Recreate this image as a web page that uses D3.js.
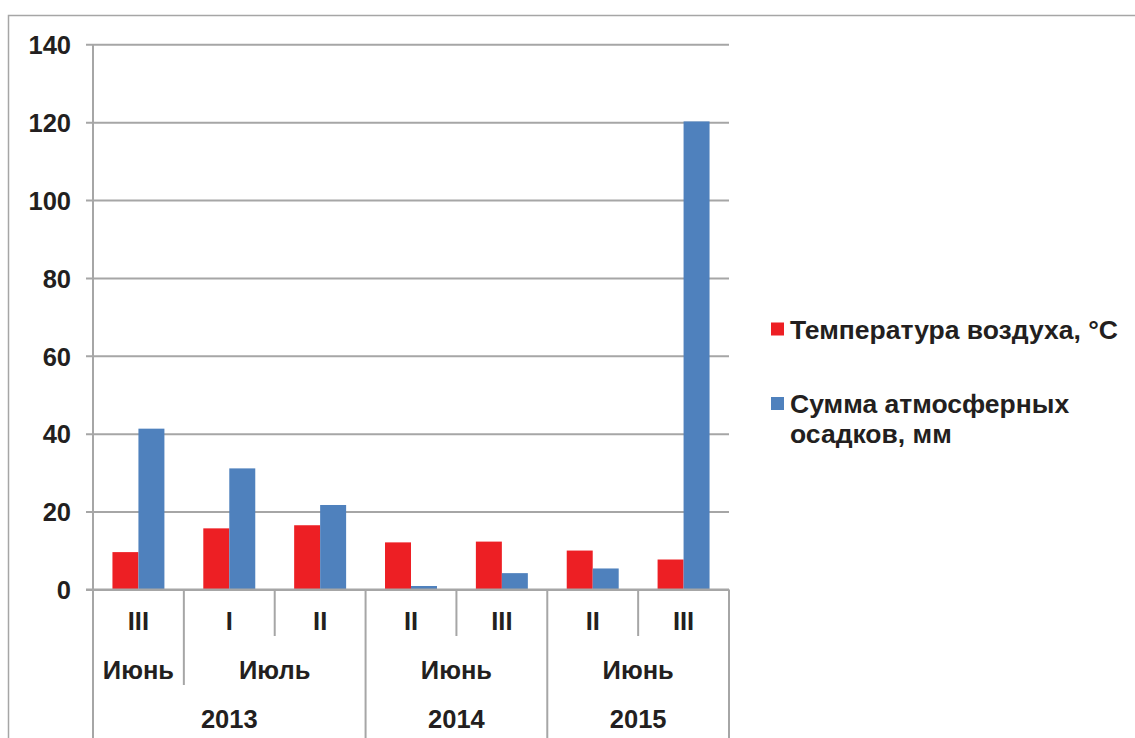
<!DOCTYPE html>
<html><head><meta charset="utf-8">
<script src="https://cdn.jsdelivr.net/npm/d3@7"></script>
<style>
html,body{margin:0;padding:0;background:#fff;}
svg{display:block;}
text{font-family:"Liberation Sans",Arial,sans-serif;font-weight:bold;fill:#231F20;}
</style></head><body>
<svg id="c" width="1135" height="738"></svg>
<script>
const periods = ["III","I","II","II","III","II","III"];
const months  = ["Июнь","Июль","Июль","Июнь","Июнь","Июнь","Июнь"];
const years   = ["2013","2013","2013","2014","2014","2015","2015"];
const temperature   = [9.6, 15.7, 16.5, 12.1, 12.3, 10.0, 7.7];
const precipitation = [41.3, 31.1, 21.7, 0.9, 4.2, 5.4, 120.2];
const seriesNames = ["Температура воздуха, °С", "Сумма атмосферных осадков, мм"];
const seriesColors = ["#ED1F24", "#4F81BD"];
const yTicks = [0,20,40,60,80,100,120,140];

(function(){
const svg = d3.select("#c");
const W = 1135, H = 738;
const pL = 93, pR = 729, pT = 44.3, pB = 589.5;
const grid = "#A6A6A6";
const fs = "25.5px";
const lfs = "26.5px";

svg.append("rect").attr("x",8.5).attr("y",15.5).attr("width",W+10).attr("height",H+10)
  .attr("fill","none").attr("stroke",grid).attr("stroke-width",1.5);

const idx = d3.range(periods.length);
const x0 = d3.scaleBand().domain(idx).range([pL,pR]).paddingInner(0.428).paddingOuter(0.214);
const x1 = d3.scaleBand().domain([0,1]).range([0,x0.bandwidth()]);
const y = d3.scaleLinear().domain([0,140]).range([pB,pT]);
const step = x0.step();

const yAxis = d3.axisLeft(y).tickValues(yTicks).tickSize(pR-86).tickFormat(d=>d);
const ga = svg.append("g").attr("transform",`translate(${pR},0)`).call(yAxis);
ga.select(".domain").remove();
ga.selectAll(".tick line").attr("stroke",grid).attr("stroke-width",2);
ga.selectAll(".tick text").attr("x",-(pR-71)).attr("dy","0.36em")
  .style("font-size",fs).attr("text-anchor","end");

svg.append("line").attr("x1",pL).attr("x2",pL).attr("y1",pT).attr("y2",H)
  .attr("stroke",grid).attr("stroke-width",2);
svg.append("line").attr("x1",pR).attr("x2",pR).attr("y1",pB).attr("y2",H)
  .attr("stroke",grid).attr("stroke-width",2);

const data = idx.map(i=>[temperature[i], precipitation[i]]);
const g = svg.append("g");
g.selectAll("g").data(data).join("g")
  .attr("transform",(d,i)=>`translate(${x0(i)},0)`)
  .selectAll("rect").data(d=>d.map((v,k)=>({v,k}))).join("rect")
  .attr("x",d=>x1(d.k)).attr("width",x1.bandwidth())
  .attr("y",d=>y(d.v)).attr("height",d=>y(0)-y(d.v))
  .attr("fill",d=>seriesColors[d.k]);

svg.append("line").attr("x1",86).attr("x2",pR).attr("y1",pB).attr("y2",pB)
  .attr("stroke",grid).attr("stroke-width",2);

for (let i=1;i<periods.length;i++){
  const xs = pL + i*step;
  let y2 = 636;
  if (years[i]!==years[i-1]) y2 = H;
  else if (months[i]!==months[i-1]) y2 = 685;
  svg.append("line").attr("x1",xs).attr("x2",xs).attr("y1",pB).attr("y2",y2)
    .attr("stroke",grid).attr("stroke-width",2);
}

svg.selectAll(".p").data(periods).join("text").attr("class","p")
  .attr("x",(d,i)=>x0(i)+x0.bandwidth()/2).attr("y",630)
  .attr("text-anchor","middle").style("font-size",fs).text(d=>d);

function groups(keyFn, labelFn){
  const out=[];
  idx.forEach(i=>{
    const k=keyFn(i);
    if(out.length && out[out.length-1].k===k) out[out.length-1].end=i;
    else out.push({k,label:labelFn(i),start:i,end:i});
  });
  return out;
}
const mg = groups(i=>years[i]+months[i], i=>months[i]);
svg.selectAll(".m").data(mg).join("text").attr("class","m")
  .attr("x",d=>pL+(d.start+d.end+1)/2*step).attr("y",679)
  .attr("text-anchor","middle").style("font-size",fs).text(d=>d.label);
const yg = groups(i=>years[i], i=>years[i]);
svg.selectAll(".yr").data(yg).join("text").attr("class","yr")
  .attr("x",d=>pL+(d.start+d.end+1)/2*step).attr("y",727.5)
  .attr("text-anchor","middle").style("font-size",fs).text(d=>d.label);

const lg = svg.append("g");
lg.append("rect").attr("x",771).attr("y",322.5).attr("width",13).attr("height",13).attr("fill",seriesColors[0]);
lg.append("text").attr("x",790).attr("y",339).style("font-size",lfs).text(seriesNames[0]);
lg.append("rect").attr("x",771).attr("y",397).attr("width",13).attr("height",13).attr("fill",seriesColors[1]);
const t2 = lg.append("text").attr("x",790).attr("y",413).style("font-size",lfs);
t2.append("tspan").attr("x",790).text("Сумма атмосферных");
t2.append("tspan").attr("x",790).attr("dy",30).text("осадков, мм");
})();
</script>
</body></html>
